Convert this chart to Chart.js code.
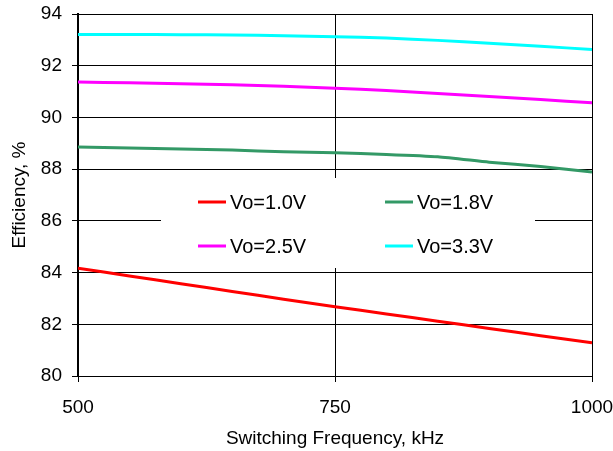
<!DOCTYPE html>
<html>
<head>
<meta charset="utf-8">
<script src="https://cdn.jsdelivr.net/npm/chart.js@4"></script>
<style>
  html, body { margin: 0; padding: 0; background: #ffffff; }
  #c { display: block; }
</style>
</head>
<body>
<canvas id="c" width="613" height="451"></canvas>
<script>
const freq   = [500, 550, 600, 650, 700, 750, 800, 850, 900, 950, 1000];
const vo10   = [84.17, 83.87, 83.57, 83.27, 82.97, 82.68, 82.40, 82.12, 81.84, 81.56, 81.29];
const vo18   = [88.86, 88.82, 88.78, 88.74, 88.67, 88.63, 88.57, 88.48, 88.27, 88.10, 87.89];
const vo25   = [91.37, 91.34, 91.30, 91.26, 91.21, 91.13, 91.04, 90.93, 90.81, 90.69, 90.57];
const vo33   = [93.21, 93.21, 93.20, 93.19, 93.16, 93.12, 93.07, 92.98, 92.87, 92.75, 92.63];
const seriesNames = ["Vo=1.0V", "Vo=1.8V", "Vo=2.5V", "Vo=3.3V"];
const xTicks = [500, 750, 1000];
const yTicks = [80, 82, 84, 86, 88, 90, 92, 94];
const xTitle = "Switching Frequency, kHz";
const yTitle = "Efficiency, %";

const FONT = "'Liberation Sans', Arial, sans-serif";
const colors = ["#FF0000", "#339966", "#FF00FF", "#00FFFF"];
const seriesData = [vo10, vo18, vo25, vo33];

const datasets = seriesData.map((arr, i) => ({
  label: seriesNames[i],
  data: arr.map((v, j) => ({ x: freq[j], y: v })),
  borderColor: colors[i],
  backgroundColor: colors[i],
  borderWidth: 3,
  pointRadius: 0,
  tension: 0.2,
  fill: false
}));

const legendPlugin = {
  id: 'innerLegend',
  afterDatasetsDraw(chart) {
    const ctx = chart.ctx;
    const a = chart.chartArea;
    const bx = a.left + 83, by = a.top + 164, bw = 374, bh = 90;
    ctx.save();
    ctx.fillStyle = '#ffffff';
    ctx.fillRect(bx, by, bw, bh);
    ctx.font = "20px " + FONT;
    ctx.textBaseline = 'middle';
    ctx.fillStyle = '#000000';
    const cols = [bx + 37, bx + 224];
    const rows = [by + 24, by + 68];
    chart.data.datasets.forEach((ds, i) => {
      const cx = cols[i % 2], cy = rows[Math.floor(i / 2)];
      ctx.strokeStyle = ds.borderColor;
      ctx.lineWidth = 3;
      ctx.beginPath();
      ctx.moveTo(cx, cy);
      ctx.lineTo(cx + 28, cy);
      ctx.stroke();
      ctx.fillStyle = '#000000';
      ctx.textAlign = 'left';
      ctx.fillText(ds.label, cx + 32, cy + 1);
    });
    ctx.restore();
  }
};

new Chart(document.getElementById('c'), {
  type: 'line',
  data: { datasets },
  plugins: [legendPlugin],
  options: {
    responsive: false,
    animation: false,
    devicePixelRatio: 1,
    layout: { padding: { top: 14, right: 21, bottom: 0, left: 4 } },
    plugins: { legend: { display: false }, tooltip: { enabled: false } },
    scales: {
      x: {
        type: 'linear',
        min: 500, max: 1000,
        afterBuildTicks: (s) => { s.ticks = xTicks.map(v => ({ value: v })); },
        afterFit: (s) => { s.height = 75; s.paddingLeft = 0; s.paddingRight = 0; },
        ticks: { color: '#000', font: { family: FONT, size: 19 }, padding: 14, maxRotation: 0,
                 callback: (v) => String(v) },
        grid: { color: '#000', lineWidth: 1, tickLength: 6, drawTicks: true },
        border: { color: '#000', width: 1 },
        title: { display: true, text: xTitle, color: '#000', font: { family: FONT, size: 19 }, padding: { top: 2, bottom: 1 } }
      },
      y: {
        type: 'linear',
        min: 80, max: 94,
        afterBuildTicks: (s) => { s.ticks = yTicks.map(v => ({ value: v })); },
        afterFit: (s) => { s.width = 74; s.paddingTop = 0; s.paddingBottom = 0; },
        ticks: { color: '#000', font: { family: FONT, size: 19 }, padding: 10,
                 callback: (v) => String(v) },
        grid: { color: '#000', lineWidth: 1, tickLength: 6, drawTicks: true },
        border: { color: '#000', width: 2 },
        title: { display: true, text: yTitle, color: '#000', font: { family: FONT, size: 19 }, padding: { top: 4, bottom: 2 } }
      }
    }
  }
});
</script>
</body>
</html>
